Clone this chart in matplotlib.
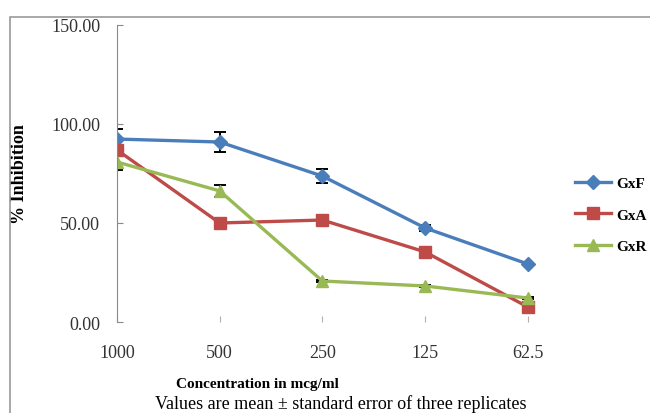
import numpy as np
import matplotlib
matplotlib.use("Agg")
import matplotlib.pyplot as plt
from matplotlib.patches import Rectangle
from matplotlib.lines import Line2D

# data
concentrations = ["1000", "500", "250", "125", "62.5"]
gxf = [92.4, 90.9, 73.7, 47.5, 29.3]
gxf_err = [5.0, 5.0, 3.5, 1.5, 0.5]
gxa = [86.9, 50.0, 51.5, 35.4, 7.6]
gxa_err = [2.0, 0.5, 0.5, 0.5, 0.5]
gxr = [80.8, 66.2, 20.7, 18.2, 12.1]
gxr_err = [4.0, 3.0, 0.5, 0.5, 0.5]

plt.rcParams['font.family'] = ['Liberation Serif', 'DejaVu Serif']

fig = plt.figure(figsize=(6.5, 4.14), dpi=100)

# outer chart border (runs off the right/bottom edges)
fig.patches.append(Rectangle((10 / 650, -0.1), 1.0, 1 - 18 / 414 + 0.1,
                             transform=fig.transFigure, fill=False,
                             edgecolor='#9a9a9a', linewidth=1.2))

ax = fig.add_axes([117 / 650, 1 - 323 / 414, (538 - 117) / 650, (323 - 26) / 414])
x = np.arange(len(concentrations))

series = [
    ("GxF", gxf, gxf_err, '#4A7EBB', 'D', 7),
    ("GxA", gxa, gxa_err, '#BE4B48', 's', 9),
    ("GxR", gxr, gxr_err, '#98B954', '^', 9),
]
handles = []
for name, vals, err, col, mk, ms in series:
    ax.errorbar(x, vals, yerr=err, color=col, marker=mk, markersize=ms,
                linewidth=2.4, ecolor='black', elinewidth=1.4, capsize=4,
                capthick=1.4)
    handles.append(Line2D([], [], color=col, marker=mk, markersize=ms,
                          linewidth=2.4, label=name))

ax.set_xlim(0, 4.1)
ax.set_ylim(0, 150)
ax.set_yticks([0, 50, 100, 150])
ax.set_yticklabels([f"{v:.2f}" for v in [0, 50, 100, 150]])
ax.set_xticks(x)
ax.set_xticklabels(concentrations)

for s in ['top', 'right', 'bottom']:
    ax.spines[s].set_visible(False)
ax.spines['left'].set_color('#8a8a8a')
ax.tick_params(axis='y', direction='in', length=4, color='#8a8a8a',
               labelsize=13, labelcolor='#333333', pad=12)
ax.tick_params(axis='x', direction='in', length=4, color='#b0b0b0',
               labelsize=13, labelcolor='#333333', pad=16)

ax.set_xlabel("Concentration in mcg/ml", fontsize=11, fontweight='bold')
ax.xaxis.set_label_coords((257 - 117) / 421, -55 / 297)
ax.set_ylabel("% Inhibition", fontsize=13, fontweight='bold')
ax.yaxis.set_label_coords(-89 / 421, 0.5)

fig.text(341 / 650, 1 - 404 / 414, "Values are mean ± standard error of three replicates",
         ha='center', va='center', fontsize=13)

fig.legend(handles=handles, loc='upper left', bbox_to_anchor=(561 / 650, 1 - 164 / 414),
           frameon=False, handlelength=2.4, handletextpad=0.3,
           labelspacing=1.15, prop={'size': 11, 'weight': 'bold'})

fig.savefig("out.png", dpi=100)
